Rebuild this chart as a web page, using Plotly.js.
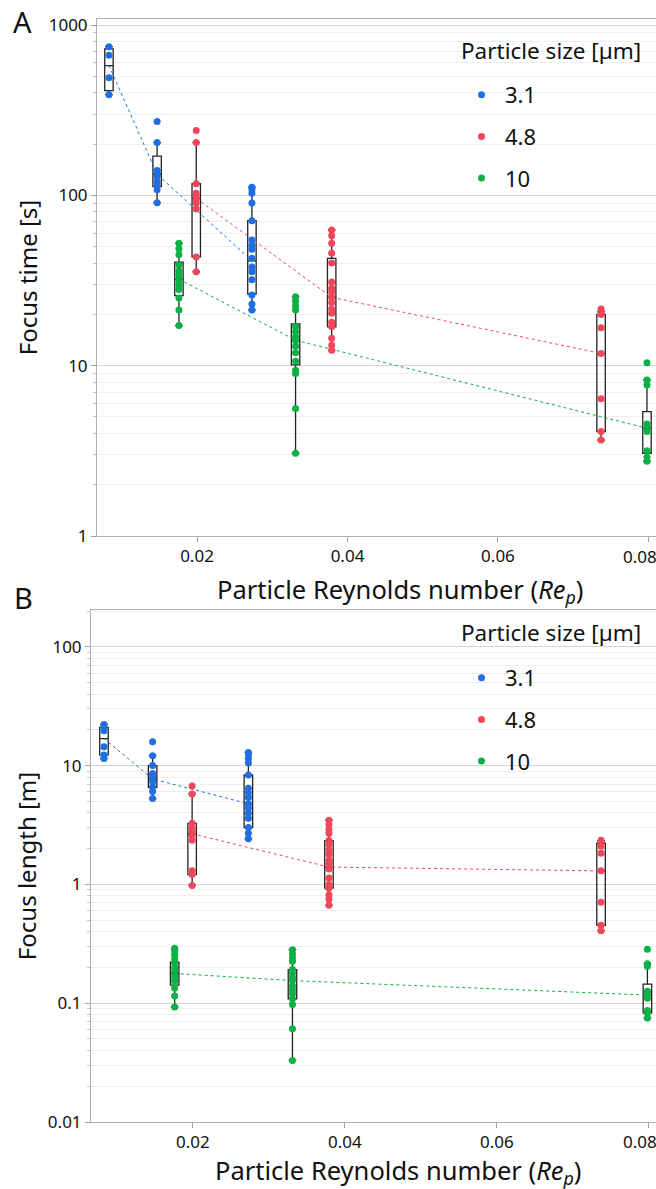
<!DOCTYPE html>
<html><head><meta charset="utf-8">
<script src="https://cdn.plot.ly/plotly-3.0.1.min.js"></script>
<style>html,body{margin:0;padding:0;background:#fff}</style>
</head><body><div id="chart" style="width:656px;height:1189px"></div>
<script>
// ---------- DATA ----------
const sizes = ['3.1', '4.8', '10'];           // particle size [µm]
const rep_31 = [0.0083, 0.0147, 0.0273];      // particle Reynolds number per box
const rep_48 = [0.0199, 0.0379, 0.0737];
const rep_10 = [0.0176, 0.0331, 0.0798];

// Panel A: focus time [s]
const time_31_pts = [[745,665,490,390],[271,204,140,135,129,120,115,108,90.6],[111.5,108,103,90,71,54.6,51,48.3,42.7,38,35.6,31.9,26,23,21.2]];
const time_31_q1 = [412,112.5,26.3], time_31_med = [578,133,41.2], time_31_q3 = [724,170,71], time_31_lo = [390,90.6,21.2], time_31_hi = [745,204,111.5];
const time_48_pts = [[240,204,117,103,99,95,90,83,43.5,35.6],[62.6,58,52.3,45.7,40,31,28.5,27.2,25.2,23.5,21.5,20.3,18,16.9,14.5,13.2,12.3],[21.5,20.8,20,16.7,11.8,6.4,4.1,3.66]];
const time_48_q1 = [43.5,16.9,4.1], time_48_med = [96,25.2,11.8], time_48_q3 = [117,42.7,20], time_48_lo = [35.6,12.3,3.66], time_48_hi = [204,62.6,20.8];
const time_10_pts = [[52.3,48.5,45,39,36,34,32,30,28,25,21.2,17.2],[25.4,24,22.5,21.2,17,15.8,14.8,14,13,11.9,10.6,9.4,9.0,5.6,3.06],[10.4,8.24,7.7,4.54,4.3,4.1,3.17,2.9,2.75]];
const time_10_q1 = [25.8,10.1,3.06], time_10_med = [32.2,14.1,4.29], time_10_q3 = [40.5,17.6,5.37], time_10_lo = [17.2,3.06,2.75], time_10_hi = [52.3,25.4,8.24];

// Panel B: focus length [m]
const len_31_pts = [[22.2,21,19.7,14.4,12.3,11.5],[15.9,12.1,10,8.6,8.1,7.7,7.3,6.6,6.05,5.28],[12.9,12.4,11.5,10.5,8.34,6.45,5.9,5.4,4.77,4.4,4.0,3.6,3.01,2.7,2.42]];
const len_31_q1 = [12.3,6.57,3.01], len_31_med = [16.9,7.73,4.77], len_31_q3 = [21,10,8.34], len_31_lo = [11.5,5.28,2.42], len_31_hi = [22.2,12.1,12.9];
const len_48_pts = [[6.75,5.78,3.27,2.95,2.8,2.6,2.35,1.3,1.21,0.98],[3.47,3.2,2.9,2.7,2.34,2.17,1.95,1.79,1.6,1.5,1.35,1.13,1.0,0.93,0.82,0.75,0.667],[2.35,2.3,2.1,1.83,1.30,0.706,0.452,0.408]];
const len_48_q1 = [1.21,0.93,0.452], len_48_med = [2.67,1.40,1.30], len_48_q3 = [3.27,2.34,2.22], len_48_lo = [0.98,0.667,0.408], len_48_hi = [5.78,3.47,2.33];
const len_10_pts = [[0.29,0.275,0.256,0.235,0.218,0.2,0.185,0.17,0.16,0.153,0.134,0.115,0.093],[0.282,0.26,0.24,0.226,0.192,0.18,0.165,0.155,0.14,0.13,0.12,0.109,0.0975,0.0608,0.033],[0.285,0.215,0.205,0.126,0.12,0.11,0.0867,0.0828,0.0752]];
const len_10_q1 = [0.142,0.109,0.0828], len_10_med = [0.178,0.155,0.117], len_10_q3 = [0.222,0.192,0.145], len_10_lo = [0.093,0.033,0.0752], len_10_hi = [0.288,0.282,0.215];

const xTickVals = [0.02, 0.04, 0.06, 0.08];
const xTickText = ['0.02', '0.04', '0.06', ''];   // last label is placed inside the frame (see annotations)
const xEdgeLabel = '0.08';
const yTickValsA = [1, 10, 100, 1000];
const yTickTextA = ['1', '10', '100', '1000'];
const yTickValsB = [0.01, 0.1, 1, 10, 100];
const yTickTextB = ['0.01', '0.1', '1', '10', '100'];

// ---------- STYLE ----------
const FONT = 'Noto Sans, Open Sans, sans-serif';
const COLORS = ['#1f6fe0', '#f2465b', '#0bb144'];

const groupsA = [
  {rep: rep_31, pts: time_31_pts, q1: time_31_q1, med: time_31_med, q3: time_31_q3, lo: time_31_lo, hi: time_31_hi},
  {rep: rep_48, pts: time_48_pts, q1: time_48_q1, med: time_48_med, q3: time_48_q3, lo: time_48_lo, hi: time_48_hi},
  {rep: rep_10, pts: time_10_pts, q1: time_10_q1, med: time_10_med, q3: time_10_q3, lo: time_10_lo, hi: time_10_hi}
];
const groupsB = [
  {rep: rep_31, pts: len_31_pts, q1: len_31_q1, med: len_31_med, q3: len_31_q3, lo: len_31_lo, hi: len_31_hi},
  {rep: rep_48, pts: len_48_pts, q1: len_48_q1, med: len_48_med, q3: len_48_q3, lo: len_48_lo, hi: len_48_hi},
  {rep: rep_10, pts: len_10_pts, q1: len_10_q1, med: len_10_med, q3: len_10_q3, lo: len_10_lo, hi: len_10_hi}
];

function buildPanel(groups, xa, ya, legendId, tag) {
  const lines = [], boxes = [], points = [];
  groups.forEach((g, i) => {
    lines.push({type: 'scatter', mode: 'lines', x: g.rep, y: g.med, xaxis: xa, yaxis: ya,
      line: {color: COLORS[i], width: 1, dash: '3px,3px'}, showlegend: false, hoverinfo: 'skip'});
    boxes.push({type: 'box', x: g.rep, q1: g.q1, median: g.med, q3: g.q3,
      lowerfence: g.lo, upperfence: g.hi, xaxis: xa, yaxis: ya, width: 0.00112,
      whiskerwidth: 0.9, line: {color: '#222', width: 1.3}, fillcolor: 'rgba(255,255,255,0)',
      boxpoints: false, showlegend: false, hoverinfo: 'skip'});
    const px = [], py = [];
    g.pts.forEach((arr, k) => arr.forEach(v => { px.push(g.rep[k]); py.push(v); }));
    points.push({type: 'scatter', mode: 'markers', x: px, y: py, xaxis: xa, yaxis: ya,
      name: sizes[i], legend: legendId, legendgroup: tag + i,
      marker: {color: COLORS[i], size: 7}, cliponaxis: false});
  });
  return lines.concat(boxes, points);
}

const data = buildPanel(groupsA, 'x', 'y', 'legend', 'A').concat(buildPanel(groupsB, 'x2', 'y2', 'legend2', 'B'));

const yAxisCommon = {
  type: 'log', showline: true, linecolor: '#b0b0b0', linewidth: 1,
  ticks: 'outside', ticklen: 5, tickcolor: '#a0a0a0',
  showgrid: true, gridcolor: '#d6d6d6', gridwidth: 1, zeroline: false,
  tickfont: {family: FONT, size: 17, color: '#111'},
  minor: {dtick: 'D1', showgrid: true, gridcolor: '#eeeeee', ticks: 'outside', ticklen: 3, tickcolor: '#c8c8c8'},
  title: {font: {family: FONT, size: 24, color: '#111'}, standoff: 4}
};
const xAxisCommon = {
  showline: true, linecolor: '#b0b0b0', linewidth: 1, mirror: true,
  ticks: 'outside', ticklen: 5, tickcolor: '#a0a0a0', showgrid: false, zeroline: false,
  tickvals: xTickVals, ticktext: xTickText,
  tickfont: {family: FONT, size: 17, color: '#111'}
};
const legendCommon = {
  bgcolor: 'rgba(0,0,0,0)', font: {family: FONT, size: 22, color: '#111'},
  tracegroupgap: 10, xanchor: 'left', yanchor: 'top', itemwidth: 37
};

const annFont = {family: FONT, size: 23, color: '#111'};
function ann(text, px, py, size, xanchor) {
  return {text: text, xref: 'paper', yref: 'paper', x: px / 656, y: (1189 - py) / 1189,
    xanchor: xanchor || 'center', yanchor: 'middle', showarrow: false,
    font: Object.assign({}, annFont, {size: size})};
}

const layout = {
  width: 656, height: 1189, margin: {l: 0, r: 0, t: 0, b: 0},
  paper_bgcolor: '#fff', plot_bgcolor: '#fff', boxmode: 'overlay',
  font: {family: FONT, color: '#111'},
  xaxis: Object.assign({}, xAxisCommon, {domain: [97/656, 1], range: [0.006711, 0.0810], anchor: 'y'}),
  yaxis: Object.assign({}, yAxisCommon, {domain: [0.5492, 0.98402], range: [0, 3.0352], anchor: 'x',
    tickvals: yTickValsA, ticktext: yTickTextA,
    title: Object.assign({}, yAxisCommon.title, {text: 'Focus time [s]'})}),
  xaxis2: Object.assign({}, xAxisCommon, {domain: [91/656, 1], range: [0.006594, 0.08093], anchor: 'y2'}),
  yaxis2: Object.assign({}, yAxisCommon, {domain: [0.05635, 0.48697], range: [-2, 2.31], anchor: 'x2',
    tickvals: yTickValsB, ticktext: yTickTextB,
    title: Object.assign({}, yAxisCommon.title, {text: 'Focus length [m]'})}),
  legend: Object.assign({}, legendCommon, {x: 458/656, y: (1189 - 74) / 1189}),
  legend2: Object.assign({}, legendCommon, {x: 458/656, y: (1189 - 657) / 1189}),
  annotations: [
    ann('Particle Reynolds number (<i>Re<sub>p</sub></i>)', 400, 590, 25.5),
    ann('Particle Reynolds number (<i>Re<sub>p</sub></i>)', 398, 1171, 25.5),
    ann(xEdgeLabel, 640, 556, 17),
    ann(xEdgeLabel, 640, 1141, 17),
    ann('Particle size [µm]', 459, 50, 22.5, 'left'),
    ann('Particle size [µm]', 459, 632, 22.5, 'left'),
    ann('A', 22, 21, 29),
    ann('B', 23, 598, 29)
  ]
};

Plotly.newPlot('chart', data, layout, {staticPlot: true, displayModeBar: false});
</script></body></html>
